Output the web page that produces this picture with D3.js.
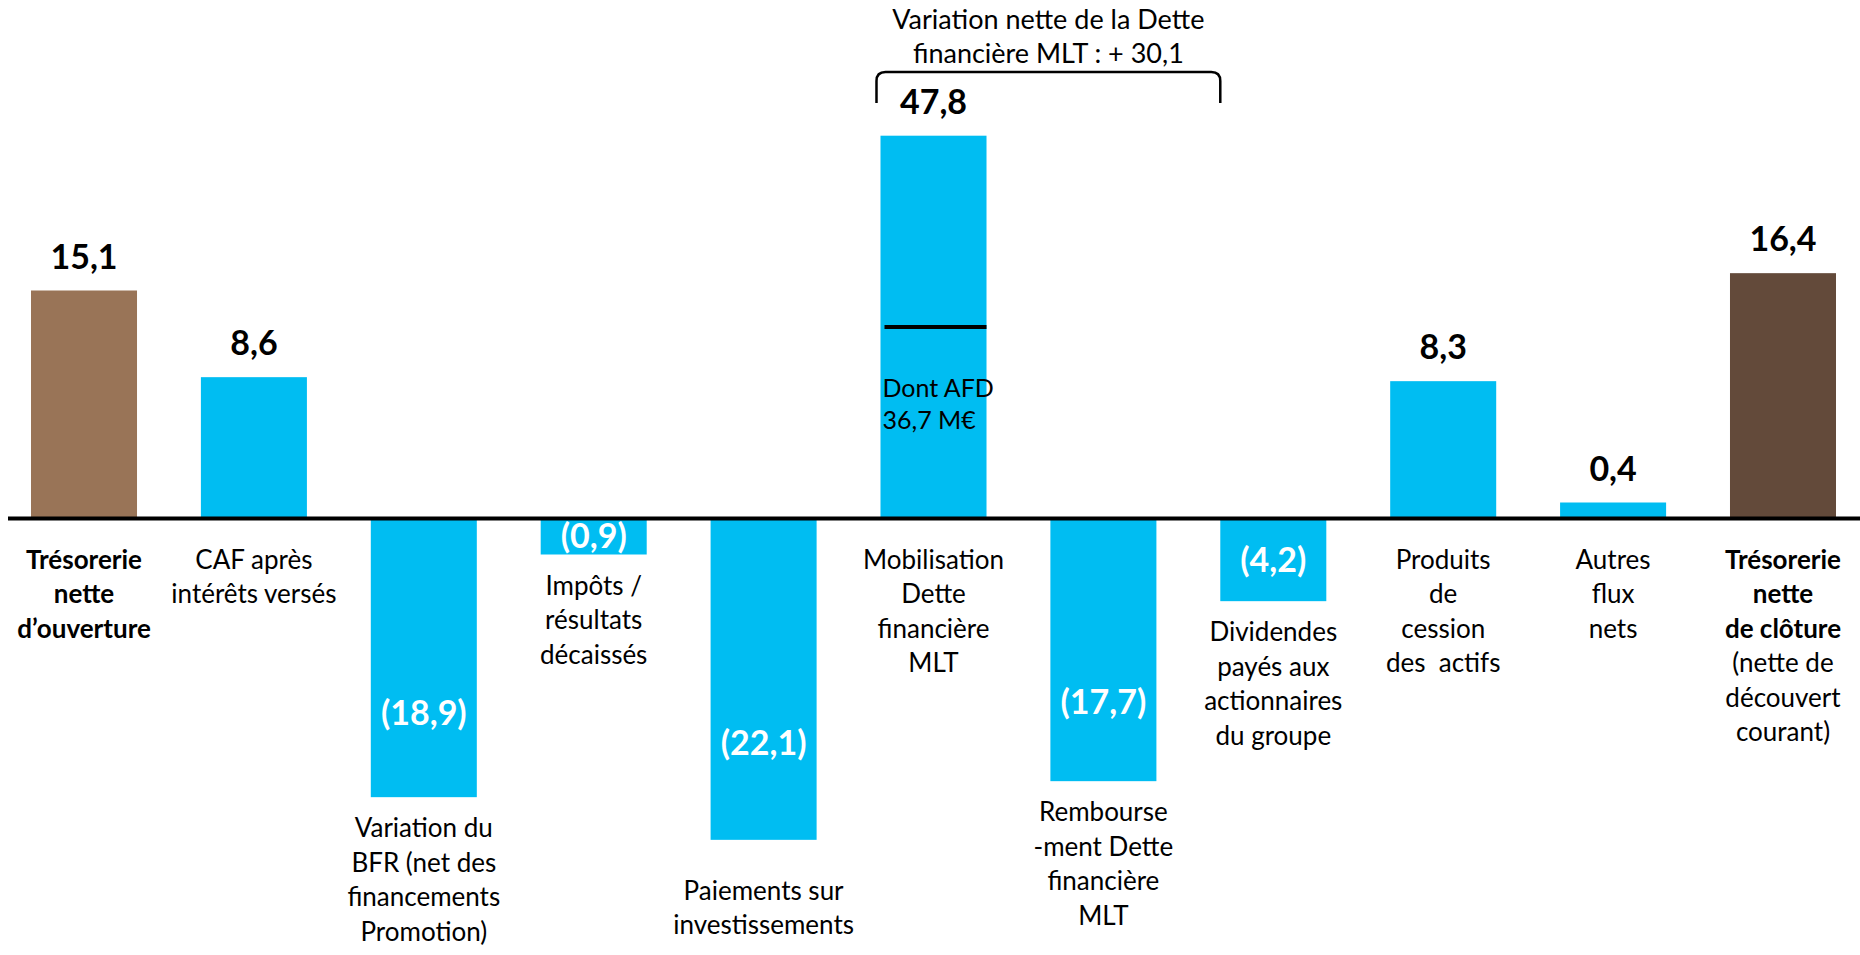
<!DOCTYPE html>
<html><head><meta charset="utf-8">
<script src="https://cdn.jsdelivr.net/npm/d3@7"></script>
<style>
html,body{margin:0;padding:0;background:#fff;}
svg{display:block;font-family:Lato,"Open Sans","Liberation Sans",sans-serif;}
</style>
</head><body>
<svg id="chart" width="1860" height="955"></svg>
<script>
// ---- data ----
const categories = [
  "Trésorerie\nnette\nd’ouverture",
  "CAF après\nintérêts versés",
  "Variation du\nBFR (net des\nfinancements\nPromotion)",
  "Impôts /\nrésultats\ndécaissés",
  "Paiements sur\ninvestissements",
  "Mobilisation\nDette\nfinancière\nMLT",
  "Rembourse\n-ment Dette\nfinancière\nMLT",
  "Dividendes\npayés aux\nactionnaires\ndu groupe",
  "Produits\nde\ncession\ndes  actifs",
  "Autres\nflux\nnets",
  "Trésorerie\nnette\nde clôture"
];
const values = [15.1, 8.6, -18.9, -0.9, -22.1, 47.8, -17.7, -4.2, 8.3, 0.4, 16.4];
const barKinds = ["open","flow","flow","flow","flow","flow","flow","flow","flow","flow","close"];
const subNotes = ["","","","","","","","","","","(nette de\ndécouvert\ncourant)"];
const afdNote = ["Dont AFD", "36,7 M€"];
const bracketTitle = ["Variation nette de la Dette", "financière MLT : + 30,1"];
const bracketFrom = "Mobilisation\nDette\nfinancière\nMLT";
const bracketTo = "Dividendes\npayés aux\nactionnaires\ndu groupe";
const yBreaks = [-25, -1, 0, 1, 25, 50];

// ---- layout / style ----
const W = 1860, H = 955;
const y0 = 518.5;
const colors = {open: "#997457", flow: "#00BDF2", close: "#634A3A"};
const lineH = 34.5;

const svg = d3.select("#chart");

const x = d3.scaleBand().domain(categories).range([31, 1836])
  .paddingInner(0.376).paddingOuter(0);
const y = d3.scaleLinear().domain(yBreaks)
  .range([y0 + 360, y0 + 40, y0, y0 - 40, y0 - 360, y0 - 385]);

const data = categories.map((c, i) => ({cat: c, v: values[i], kind: barKinds[i], sub: subNotes[i]}));
const fmt = v => d3.format(".1f")(Math.abs(v)).replace(".", ",");

// bars
svg.append("g").selectAll("rect").data(data).join("rect")
  .attr("x", d => x(d.cat))
  .attr("width", x.bandwidth())
  .attr("y", d => Math.min(y(d.v), y(0)))
  .attr("height", d => Math.abs(y(d.v) - y(0)))
  .attr("fill", d => colors[d.kind]);

// baseline
svg.append("line").attr("x1", 8).attr("x2", W).attr("y1", y(0)).attr("y2", y(0))
  .attr("stroke", "#000").attr("stroke-width", 4);

// positive value labels
svg.append("g").selectAll("text").data(data.filter(d => d.v >= 0)).join("text")
  .attr("x", d => x(d.cat) + x.bandwidth() / 2)
  .attr("y", d => y(d.v) - 22)
  .attr("text-anchor", "middle")
  .attr("font-weight", "bold").attr("font-size", 34).attr("fill", "#000")
  .text(d => fmt(d.v));

// negative value labels (inside bars)
svg.append("g").selectAll("text").data(data.filter(d => d.v < 0)).join("text")
  .attr("x", d => x(d.cat) + x.bandwidth() / 2)
  .attr("y", d => y(0) + (y(d.v) - y(0)) * (Math.abs(d.v) > 10 ? 0.7 : 0.5))
  .attr("dy", "0.35em")
  .attr("text-anchor", "middle")
  .attr("font-weight", "bold").attr("font-size", 34).attr("fill", "#fff")
  .text(d => "(" + fmt(d.v) + ")");

// category labels
const catG = svg.append("g");
data.forEach(d => {
  const cx = x(d.cat) + x.bandwidth() / 2;
  const top = d.v >= 0 ? y(0) + 50 : y(d.v) + (Math.abs(d.v) > 20 ? 60 : 40);
  const bold = d.kind !== "flow";
  const lines = d.cat.split("\n").map(t => ({t, b: bold}))
    .concat(d.sub ? d.sub.split("\n").map(t => ({t, b: false})) : []);
  const t = catG.append("text").attr("text-anchor", "middle")
    .attr("font-size", 26).attr("fill", "#000").style("white-space", "pre");
  lines.forEach((l, k) => {
    t.append("tspan").attr("x", cx).attr("y", top + k * lineH)
      .attr("font-weight", l.b ? "bold" : "normal").text(l.t);
  });
});

// AFD split line and note on the Mobilisation bar
const mob = data.find(d => d.cat === bracketFrom);
const midY = (y(0) + y(mob.v)) / 2;
svg.append("line").attr("x1", x(mob.cat) + 4).attr("x2", x(mob.cat) + x.bandwidth())
  .attr("y1", midY).attr("y2", midY).attr("stroke", "#000").attr("stroke-width", 4);
const afd = svg.append("text").attr("font-size", 25).attr("fill", "#000");
afdNote.forEach((l, k) => afd.append("tspan").attr("x", x(mob.cat) + 2)
  .attr("y", midY + 70 + k * 32).text(l));

// bracket annotation
const bx1 = x(bracketFrom) - 4, bx2 = x(bracketTo);
const bTop = 72, bBot = 103, r = 9;
svg.append("path")
  .attr("d", `M${bx1},${bBot} L${bx1},${bTop + r} Q${bx1},${bTop} ${bx1 + r},${bTop} L${bx2 - r},${bTop} Q${bx2},${bTop} ${bx2},${bTop + r} L${bx2},${bBot}`)
  .attr("fill", "none").attr("stroke", "#000").attr("stroke-width", 2.5);
const bt = svg.append("text").attr("text-anchor", "middle").attr("font-size", 27).attr("fill", "#000");
bracketTitle.forEach((l, k) => bt.append("tspan").attr("x", (bx1 + bx2) / 2)
  .attr("y", 29 + k * 34).text(l));
</script>
</body></html>
